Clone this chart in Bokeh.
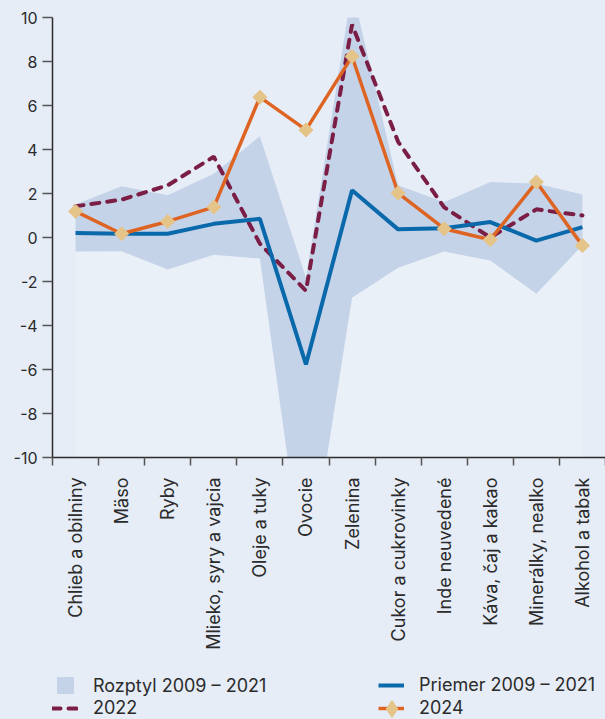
import math
from bokeh.plotting import figure
from bokeh.layouts import column
from bokeh.models import (ColumnDataSource, FixedTicker, Range1d, Legend, LegendItem)
from bokeh.embed import file_html
from bokeh.resources import INLINE

categories = ["Chlieb a obilniny", "Mäso", "Ryby", "Mlieko, syry a vajcia",
              "Oleje a tuky", "Ovocie", "Zelenina", "Cukor a cukrovinky",
              "Inde neuvedené", "Káva, čaj a kakao", "Minerálky, nealko",
              "Alkohol a tabak"]
band_low = [-0.64, -0.62, -1.46, -0.78, -0.96, -16.0, -2.74, -1.37, -0.64, -1.05, -2.56, -0.35]
band_high = [1.5, 2.33, 1.92, 2.9, 4.6, -1.83, 11.3, 2.37, 1.6, 2.52, 2.45, 1.96]
mean_0921 = [0.21, 0.17, 0.17, 0.62, 0.85, -5.77, 2.15, 0.37, 0.42, 0.70, -0.14, 0.47]
y2022 = [1.42, 1.72, 2.37, 3.67, -0.28, -2.42, 9.68, 4.35, 1.37, 0.0, 1.28, 1.0]
y2024 = [1.19, 0.17, 0.73, 1.38, 6.38, 4.89, 8.23, 2.02, 0.40, -0.10, 2.52, -0.37]
y_ticks = [-10, -8, -6, -4, -2, 0, 2, 4, 6, 8, 10]
y_tick_labels = ["-10", "-8", "-6", "-4", "-2", "0", "2", "4", "6", "8", "10"]
Y_MIN, Y_MAX = -10, 10

BG = "#E6EDF7"
FONT = "Inter"
TXT = "#2b2b2b"
C_BAND = "#C5D3E9"
C_22 = "#7A1E45"
C_MEAN = "#0A69AA"
C_24 = "#DE6424"
C_DIAM = "#E5C48A"

n = len(categories)
xs = [i + 0.5 for i in range(n)]
floor = [Y_MIN - 20] * n
src = ColumnDataSource(dict(x=xs, low=band_low, high=band_high, mean=mean_0921,
                            y22=y2022, y24=y2024, floor=floor))

p = figure(width=605, height=665, output_backend="svg", toolbar_location=None,
           x_range=Range1d(0, n), y_range=Range1d(Y_MIN, Y_MAX),
           min_border_left=52, min_border_right=0, min_border_top=17,
           min_border_bottom=208)
p.background_fill_color = BG
p.border_fill_color = BG
p.outline_line_color = None
p.xgrid.visible = False
p.ygrid.visible = False

# faint lighter region under the band
p.varea(x="x", y1="floor", y2="low", source=src, fill_color="white", fill_alpha=0.18)
p.varea(x="x", y1="low", y2="high", source=src, fill_color=C_BAND)
p.line(x="x", y="y22", source=src, line_color=C_22, line_width=4,
       line_dash="8 8", line_cap="round")
p.line(x="x", y="mean", source=src, line_color=C_MEAN, line_width=4)
p.line(x="x", y="y24", source=src, line_color=C_24, line_width=3.5)
p.scatter(x="x", y="y24", source=src, marker="square", size=10, angle=math.pi / 4,
          fill_color=C_DIAM, line_color=C_DIAM)

# x axis: labels at category centres, ticks at boundaries (minor ticks)
xa = p.xaxis[0]
xa.ticker = FixedTicker(ticks=xs, minor_ticks=list(range(n + 1)))
xa.major_label_overrides = {x: c for x, c in zip(xs, categories)}
xa.major_label_orientation = math.pi / 2
xa.major_tick_out = 0
xa.major_tick_in = 0
xa.minor_tick_out = 8
xa.minor_tick_in = 0
xa.minor_tick_line_color = "#555555"
xa.minor_tick_line_width = 1.5
xa.major_label_standoff = 12
xa.major_label_text_font = FONT
xa.major_label_text_font_size = "18px"
xa.major_label_text_color = TXT
xa.axis_line_color = "#2b2b2b"
xa.axis_line_width = 1.5

ya = p.yaxis[0]
ya.ticker = FixedTicker(ticks=y_ticks, minor_ticks=[])
ya.major_label_overrides = {t: s for t, s in zip(y_ticks, y_tick_labels)}
ya.major_tick_out = 10
ya.major_tick_in = 0
ya.major_tick_line_color = "#555555"
ya.major_tick_line_width = 1.5
ya.major_label_standoff = 5
ya.major_label_text_font = FONT
ya.major_label_text_font_size = "16px"
ya.major_label_text_color = TXT
ya.axis_line_color = "#2b2b2b"
ya.axis_line_width = 1.5

# ---- legend strip: separate figure; its renderers use the same data but lie
# outside its visible range, so only the legend icons show ----
LH = 54
q = figure(width=605, height=LH, output_backend="svg", toolbar_location=None,
           x_range=Range1d(n, n + 1), y_range=Range1d(Y_MIN, Y_MAX),
           x_axis_location=None, y_axis_location=None,
           min_border_left=0, min_border_right=0, min_border_top=0, min_border_bottom=0)
q.xgrid.visible = False
q.ygrid.visible = False
q.outline_line_color = None
q.background_fill_color = BG
q.border_fill_color = BG

r_band = q.scatter(x="x", y="high", source=src, marker="square", size=16,
                   fill_color=C_BAND, line_color=C_BAND)
r_22 = q.line(x="x", y="y22", source=src, line_color=C_22, line_width=4,
              line_dash="8 8", line_cap="round")
r_mean = q.line(x="x", y="mean", source=src, line_color=C_MEAN, line_width=4)
r_24 = q.line(x="x", y="y24", source=src, line_color=C_24, line_width=3.5)
r_24m = q.scatter(x="x", y="y24", source=src, marker="diamond", size=17,
                  fill_color=C_DIAM, line_color=C_DIAM)


def add_legend(label, renderers, left, center_y, gw, gh, standoff):
    # left: page x of glyph box; center_y: row centre measured from strip top
    top = center_y - gh / 2
    lg = Legend(items=[LegendItem(label=label, renderers=renderers)],
                location=(left - 52, LH - top - gh),
                glyph_width=gw, glyph_height=gh, label_standoff=standoff,
                padding=0, margin=0, spacing=0, border_line_color=None,
                background_fill_alpha=0, label_text_font=FONT,
                label_text_font_size="18px", label_text_color=TXT, label_height=gh)
    q.add_layout(lg, "center")


# strip starts at page y 665; row centres at page y 685 and 708
ROW2 = 43
add_legend("Rozptyl 2009 – 2021", [r_band], 45, 20, 40, 40, 8)
add_legend("2022", [r_22], 52, ROW2, 26, 20, 15)
add_legend("Priemer 2009 – 2021", [r_mean], 378, 20, 26, 20, 15)
add_legend("2024", [r_24], 378, ROW2, 26, 20, 15)
add_legend("", [r_24m], 370, ROW2, 43, 43, 0)

layout = column(p, q, spacing=0)
html = file_html(layout, INLINE)
css = "<style>html, body { background-color: %s !important; }</style></head>" % BG
html = html.replace("</head>", css, 1)
open("out.html", "w").write(html)
